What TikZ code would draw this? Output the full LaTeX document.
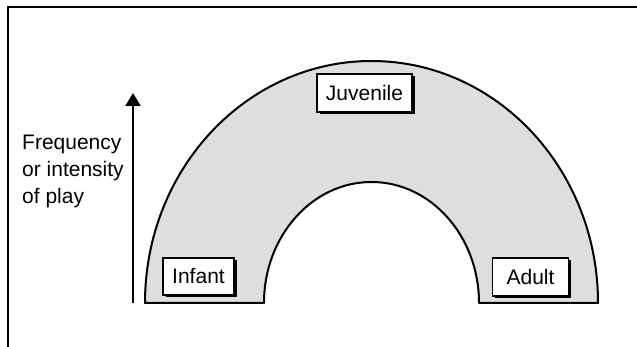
\documentclass[tikz,border=0pt]{standalone}
\usepackage{fontspec}
\setmainfont{Liberation Sans}
\usetikzlibrary{arrows.meta, shadows}
\definecolor{archgray}{RGB}{221,222,224}
\begin{document}
\begin{tikzpicture}[x=1pt, y=1pt,
    frameline/.style={line width=2pt},
    archline/.style={draw=black, fill=archgray, line width=2pt, line join=round},
    axisarrow/.style={line width=2pt, -{Triangle[width=15pt, length=13pt]}},
    agebox/.style={draw, fill=white, line width=1.5pt, minimum height=37pt, inner sep=0pt,
        font=\fontsize{21}{25}\selectfont,
        drop shadow={shadow xshift=2.5pt, shadow yshift=-2.5pt, fill=black, opacity=1}},
    axislabel/.style={align=left, inner sep=0pt, font=\fontsize{21}{27}\selectfont}]
    \useasboundingbox (0,0) rectangle (637,347);
    % frame
    \draw [frameline] (640,340) -- (8,340) -- (8,-3);
    % arch of play
    \path [archline] (145,44) arc [start angle=180, end angle=0, x radius=226.5, y radius=242]
        -- (479,44) arc [start angle=0, end angle=180, x radius=107.5, y radius=121] -- cycle;
    % age stages
    \node [agebox, minimum width=71pt] (infant) at (198.5,70.5) {Infant};
    \node [agebox, minimum width=95pt, minimum height=38pt] (juvenile) at (364.5,254) {Juvenile};
    \node [agebox, minimum width=76pt, minimum height=38pt] (adult) at (530.5,70) {Adult};
    % axis
    \coordinate (axisfoot) at (133,44);
    \coordinate (axistip) at (133,254);
    \draw [axisarrow] (axisfoot) -- (axistip);
    \node [axislabel, anchor=west] (playlabel) at (22,176) {Frequency\\or intensity\\of play};
\end{tikzpicture}
\end{document}
